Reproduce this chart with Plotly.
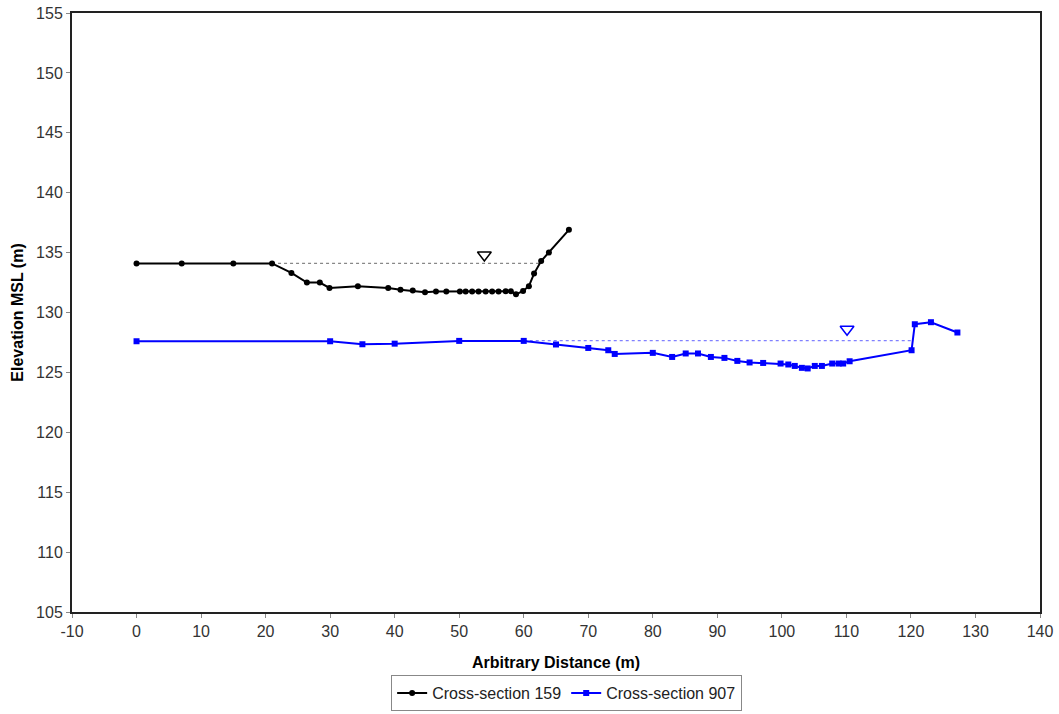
import plotly.graph_objects as go

# Cross-section 159 (black)
x159 = [0, 7, 15, 21, 24, 26.4, 28.4, 29.9, 34.3, 39.0, 40.9, 42.8, 44.7, 46.4, 48.0, 50.1, 51.0,
        52.0, 53.0, 54.1, 55.1, 56.1, 57.2, 58.0, 58.8, 59.9, 60.8, 61.6, 62.7, 63.9, 67.0]
y159 = [134.1, 134.1, 134.1, 134.1, 133.3, 132.5, 132.5, 132.05, 132.2, 132.05, 131.9, 131.83, 131.7,
        131.75, 131.75, 131.75, 131.75, 131.75, 131.75, 131.75, 131.75, 131.75, 131.77, 131.77, 131.52,
        131.8, 132.2, 133.25, 134.3, 135.0, 136.9]

# Cross-section 907 (blue)
x907 = [0, 30, 35, 40, 50, 60, 65, 70, 73.1, 74.1, 80, 83, 85.1, 87, 89, 91.1, 93.1, 95, 97.1, 99.8,
        101, 102, 103.1, 104, 105.1, 106.2, 107.8, 108.8, 109.5, 110.5, 120.1, 120.6, 123.1, 127.2]
y907 = [127.6, 127.6, 127.35, 127.4, 127.63, 127.63, 127.33, 127.04, 126.85, 126.54, 126.63, 126.29,
        126.58, 126.58, 126.29, 126.21, 125.96, 125.83, 125.79, 125.74, 125.66, 125.54, 125.38, 125.33,
        125.54, 125.54, 125.74, 125.74, 125.74, 125.93, 126.85, 129.02, 129.19, 128.33]

# Water surfaces
ws159_x = [21, 62.7]
ws159_y = [134.1, 134.1]
ws907_x = [60, 120.1]
ws907_y = [127.65, 127.65]
tri159 = (53.9, 134.8)
tri907 = (110.1, 128.6)

x_ticks = list(range(-10, 141, 10))
x_ticktext = [str(v) for v in x_ticks]
y_ticks = list(range(105, 156, 5))
y_ticktext = [str(v) for v in y_ticks]

fig = go.Figure()
fig.add_trace(go.Scatter(x=ws159_x, y=ws159_y, mode="lines", line=dict(color="#888888", width=1.2, dash="dot"),
                         showlegend=False, hoverinfo="skip"))
fig.add_trace(go.Scatter(x=ws907_x, y=ws907_y, mode="lines", line=dict(color="#8080ff", width=1.2, dash="dot"),
                         showlegend=False, hoverinfo="skip"))
fig.add_trace(go.Scatter(x=x159, y=y159, mode="lines+markers", name="Cross-section 159",
                         line=dict(color="black", width=2), marker=dict(symbol="circle", size=6, color="black")))
fig.add_trace(go.Scatter(x=x907, y=y907, mode="lines+markers", name="Cross-section 907",
                         line=dict(color="#0000ff", width=2), marker=dict(symbol="square", size=6, color="#0000ff")))
fig.add_trace(go.Scatter(x=[tri159[0]], y=[tri159[1]], mode="markers", showlegend=False, hoverinfo="skip",
                         marker=dict(symbol="triangle-down-open", size=12, color="black", line=dict(width=1.5))))
fig.add_trace(go.Scatter(x=[tri907[0]], y=[tri907[1]], mode="markers", showlegend=False, hoverinfo="skip",
                         marker=dict(symbol="triangle-down-open", size=12, color="#0000ff", line=dict(width=1.5))))

axis_common = dict(showline=True, linecolor="#222222", linewidth=2, mirror=True, showgrid=False, zeroline=False,
                   ticks="outside", ticklen=4, tickcolor="#888888", tickwidth=1, automargin=False,
                   tickfont=dict(family="Liberation Sans", size=16, color="#333333"))
fig.update_xaxes(range=[-10, 140], tickvals=x_ticks, ticktext=x_ticktext,
                 title=dict(text="<b>Arbitrary Distance (m)</b>",
                            font=dict(family="Liberation Sans", size=16, color="black"), standoff=18), **axis_common)
fig.update_yaxes(range=[105, 155], tickvals=y_ticks, ticktext=y_ticktext,
                 title=dict(text="<b>Elevation MSL (m)</b>",
                            font=dict(family="Liberation Sans", size=16, color="black"), standoff=8), **axis_common)

fig.update_layout(width=1059, height=714, margin=dict(l=72, r=19, t=13, b=102),
                  plot_bgcolor="white", paper_bgcolor="white",
                  font=dict(family="Liberation Sans", size=13, color="black"),
                  legend=dict(orientation="h", x=0.511, xanchor="center", y=0.004, yanchor="bottom",
                              yref="container", bordercolor="#888888", borderwidth=1,
                              font=dict(size=16, color="#222222"), itemwidth=30, tracegroupgap=0))
fig.write_html("out.html", config={"responsive": False, "displayModeBar": False},
               post_script="document.body.style.margin='0';document.body.style.overflow='hidden';")
